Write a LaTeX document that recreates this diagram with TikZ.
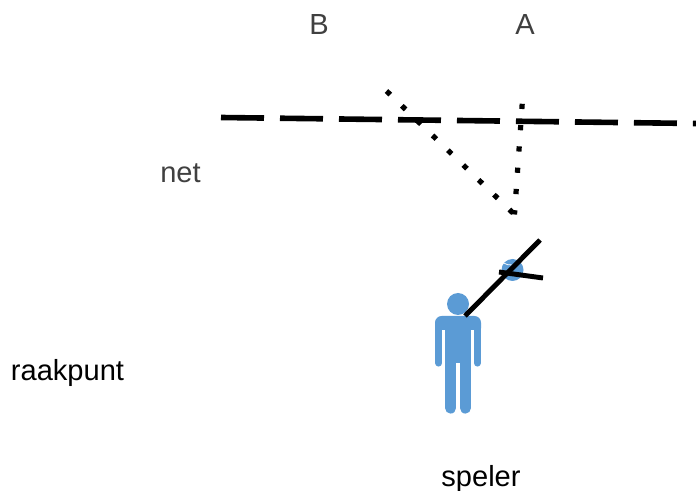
\documentclass[tikz,border=0pt]{standalone}
\usepackage{fontspec}
\setmainfont{Liberation Sans}
\definecolor{figblue}{HTML}{5B9BD5}
\definecolor{labelgrey}{HTML}{404040}
\tikzset{
	label text/.style={font=\fontsize{21.8}{26}\selectfont, inner sep=0pt},
	net line/.style={line width=4.2pt, dash pattern=on 32.25pt off 12pt},
	shot line/.style={line width=3.9pt, dash pattern=on 3.9pt off 12.1pt},
	racket line/.style={line width=3.7pt},
}
\begin{document}
\begin{tikzpicture}[x=0.75pt, y=-0.75pt]
	\useasboundingbox (0, 0) rectangle (696, 491);

	\coordinate (netL) at (221, 117.5);
	\coordinate (netR) at (696, 123.5);
	\coordinate (hit) at (514.5, 214.5);
	\coordinate (toB) at (386.5, 91);
	\coordinate (toA) at (522.2, 103.8);
	\coordinate (shoulder) at (465, 316);
	\coordinate (rackettop) at (540, 240);
	\coordinate (stringL) at (499, 272);
	\coordinate (stringR) at (543, 278);

	% joueur
	\fill[figblue] (458, 304) circle (11);
	\fill[figblue, rounded corners=5pt] (435, 335) -- (435, 316) -- (481, 316) -- (481, 335) -- cycle;
	\fill[figblue] (445, 325) rectangle (471, 363);
	\foreach \x in {438.6, 477.4}
		\draw[figblue, line width=5.4pt, line cap=round] (\x, 325) -- (\x, 363);
	\foreach \x in {450.6, 465.4}
		\draw[figblue, line width=8.4pt, line cap=round] (\x, 360) -- (\x, 408);
	\fill[white] (442.2, 330) rectangle (445, 370);
	\fill[white] (471, 330) rectangle (473.8, 370);

	% balle
	\fill[figblue] (512.5, 270) circle (11);
	\draw[white, line width=0.6pt] (503.5, 263) to[bend right=15] (512, 265);

	% raquette
	\draw[racket line] (shoulder) -- (rackettop);
	\draw[racket line] (stringL) -- (stringR);

	\draw[net line] (netL) -- (netR);
	\draw[shot line] (toB) -- (hit);
	\draw[shot line] (toA) -- (hit);

	\node[label text, text=labelgrey] (labelB) at (319, 25) {B};
	\node[label text, text=labelgrey] (labelA) at (525, 25) {A};
	\node[label text, text=labelgrey] (labelnet) at (180.5, 173) {net};
	\node[label text] (labelraakpunt) at (67.5, 373) {raakpunt};
	\node[label text] (labelspeler) at (481, 479) {speler};
\end{tikzpicture}
\end{document}
